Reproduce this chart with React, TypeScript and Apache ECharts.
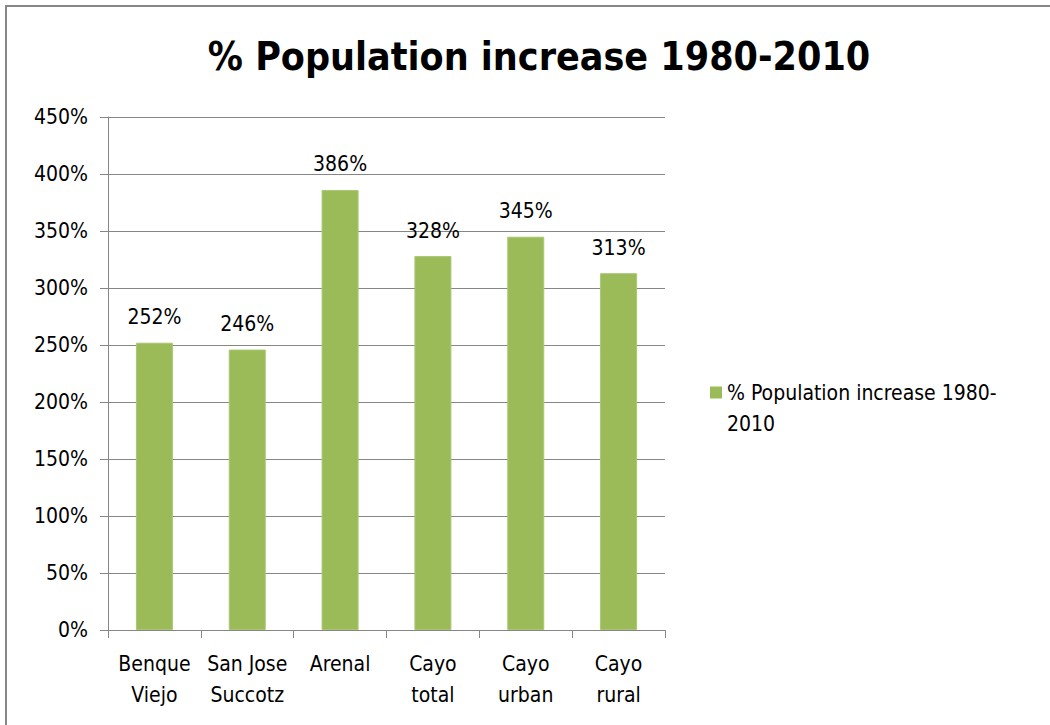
import React, { useEffect, useRef } from "react";
import * as echarts from "echarts";

const categories = ["Benque\nViejo", "San Jose\nSuccotz", "Arenal", "Cayo\ntotal", "Cayo\nurban", "Cayo\nrural"];
const values = [252, 246, 386, 328, 345, 313];
const seriesName = "% Population increase 1980-2010";
const titleText = "% Population increase 1980-2010";

const FONT = "'Liberation Sans Narrow', 'DejaVu Sans Condensed', 'Open Sans', sans-serif";

export default function App() {
  const ref = useRef<HTMLDivElement>(null);
  useEffect(() => {
    const chart = echarts.init(ref.current!, null, { renderer: "svg" });
    chart.setOption({
      animation: false,
      backgroundColor: "#ffffff",
      textStyle: { fontFamily: FONT },
      title: {
        text: titleText,
        left: 534,
        textAlign: "center",
        top: 32,
        textStyle: { fontFamily: FONT, fontSize: 39, fontWeight: "bold", color: "#000" },
      },
      graphic: [
        {
          type: "rect",
          shape: { x: 6, y: 6, width: 1100, height: 800 },
          style: { fill: "none", stroke: "#878787", lineWidth: 2 },
          z: 100,
        },
      ],
      legend: {
        left: 705,
        top: 372,
        orient: "vertical",
        icon: "path://M0,0H12V12H0Z M0,43L0,43",
        itemWidth: 12,
        itemHeight: 43,
        itemGap: 8,
        itemStyle: { borderWidth: 0 },
        formatter: () => "% Population increase 1980-\n2010",
        textStyle: { fontFamily: FONT, fontSize: 21, color: "#000", lineHeight: 31 },
        data: [seriesName],
      },
      grid: { left: 108, right: 385, top: 117, bottom: 95, containLabel: false },
      xAxis: {
        type: "category",
        data: categories,
        axisLine: { lineStyle: { color: "#868686", width: 1 } },
        axisTick: { show: true, length: 8, lineStyle: { color: "#868686" } },
        axisLabel: {
          interval: 0,
          margin: 18,
          fontFamily: FONT,
          fontSize: 21,
          color: "#000",
          lineHeight: 31,
        },
      },
      yAxis: {
        type: "value",
        min: 0,
        max: 450,
        interval: 50,
        axisLine: { show: true, lineStyle: { color: "#868686" } },
        axisTick: { show: true, length: 8, lineStyle: { color: "#868686" } },
        splitLine: { lineStyle: { color: "#868686", width: 1 } },
        axisLabel: {
          formatter: (v: number) => v + "%",
          margin: 20,
          fontFamily: FONT,
          fontSize: 21,
          color: "#000",
        },
      },
      series: [
        {
          name: seriesName,
          type: "bar",
          data: values,
          barWidth: 37,
          itemStyle: { color: "#9BBB59", borderColor: "#A9C773", borderWidth: 1 },
          label: {
            show: true,
            position: "top",
            distance: 15,
            formatter: (p: any) => p.value + "%",
            fontFamily: FONT,
            fontSize: 21,
            color: "#000",
          },
        },
      ],
    });
    return () => chart.dispose();
  }, []);
  return (
    <div
      ref={ref}
      style={{ position: "absolute", left: 0, top: 0, width: 1050, height: 725 }}
    />
  );
}
